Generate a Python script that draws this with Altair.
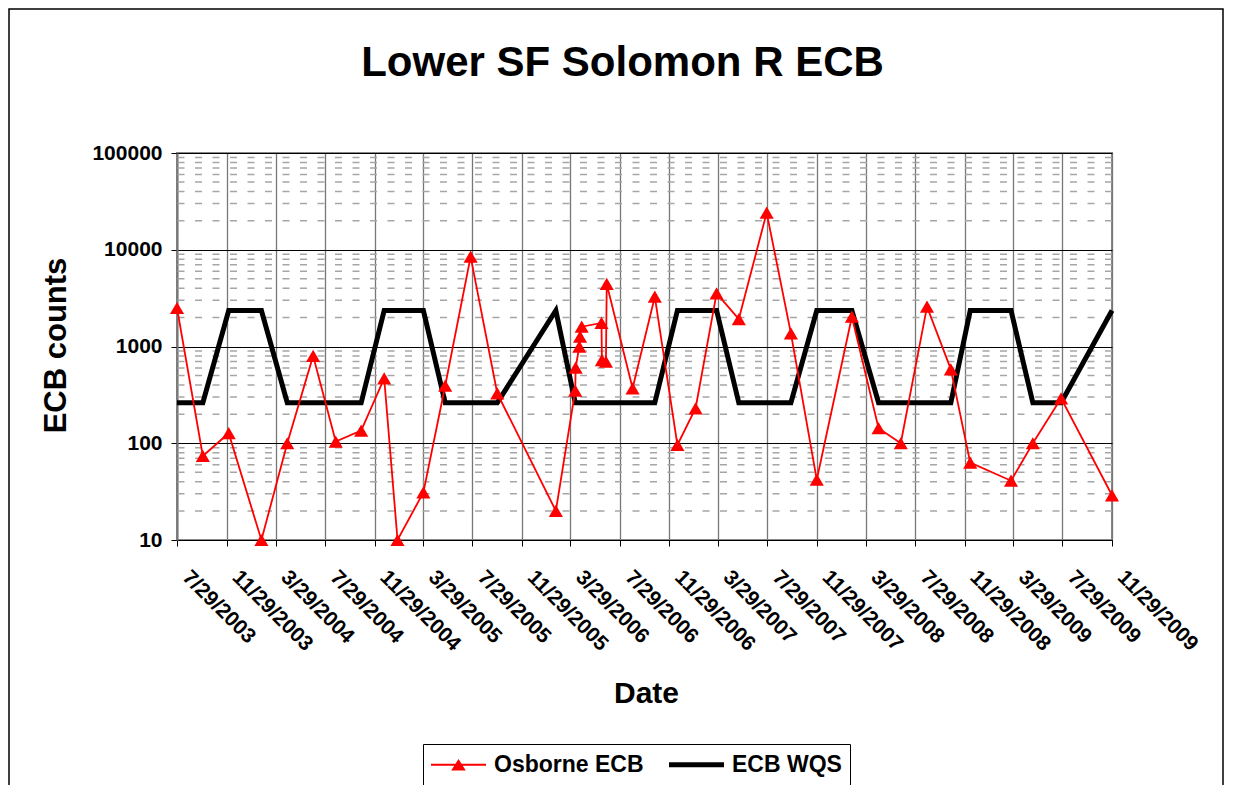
import altair as alt
import pandas as pd

FONT = "Liberation Sans"

# ---- data ----
sample_dates = [
    "2003-07-29", "2003-10-01", "2003-12-04", "2004-02-23", "2004-04-27",
    "2004-06-30", "2004-08-25", "2004-10-27", "2004-12-23", "2005-01-25",
    "2005-03-30", "2005-05-23", "2005-07-25", "2005-09-29", "2006-02-21",
    "2006-04-10", "2006-04-11", "2006-04-20", "2006-04-22", "2006-04-26",
    "2006-06-14", "2006-06-15", "2006-06-25", "2006-06-27", "2006-08-30",
    "2006-10-24", "2006-12-19", "2007-02-02", "2007-03-26", "2007-05-20",
    "2007-07-28", "2007-09-26", "2007-11-29", "2008-02-24", "2008-04-30",
    "2008-06-24", "2008-08-28", "2008-10-26", "2008-12-13", "2009-03-24",
    "2009-05-17", "2009-07-26", "2009-11-29",
]
osborne_ecb = [
    2500, 74, 127, 10, 100,
    800, 104, 135, 469, 10,
    31, 393, 8480, 328, 20,
    349, 604, 995, 1262, 1603,
    1750, 725, 697, 4430, 370,
    3270, 96, 230, 3548, 1924,
    24150, 1368, 42, 2033, 143,
    100, 2579, 581, 63, 41,
    100, 291, 29,
]
ecb_wqs = [
    262, 262, 2358, 2358, 262,
    262, 262, 262, 2358, 2358,
    2358, 262, 262, 262, 2358,
    262, 262, 262, 262, 262,
    262, 262, 262, 262, 262,
    262, 2358, 2358, 2358, 262,
    262, 262, 2358, 2358, 262,
    262, 262, 262, 2358, 2358,
    262, 262, 2358,
]
tick_dates = [
    (2003, 7, 29), (2003, 11, 29), (2004, 3, 29), (2004, 7, 29), (2004, 11, 29),
    (2005, 3, 29), (2005, 7, 29), (2005, 11, 29), (2006, 3, 29), (2006, 7, 29),
    (2006, 11, 29), (2007, 3, 29), (2007, 7, 29), (2007, 11, 29), (2008, 3, 29),
    (2008, 7, 29), (2008, 11, 29), (2009, 3, 29), (2009, 7, 29), (2009, 11, 29),
]
major_y = [10, 100, 1000, 10000, 100000]
minor_y = [20, 30, 40, 50, 60, 70, 80, 90,
           200, 300, 400, 500, 600, 700, 800, 900,
           2000, 3000, 4000, 5000, 6000, 7000, 8000, 9000,
           20000, 30000, 40000, 50000, 60000, 70000, 80000, 90000]
series_names = ["Osborne ECB", "ECB WQS"]
series_colors = ["#ff0000", "#000000"]
# legend symbols: thin line + triangle, thick line
legend_shapes = [
    "M-1,-0.08H3.4V0.08H-1Z M0.616,0.464L1.2,-0.464L1.784,0.464Z",
    "M-1,-0.2H3.4V0.2H-1Z",
]

df = pd.DataFrame({
    "date": [d + "T00:00:00" for d in sample_dates],
    "osborne": osborne_ecb,
    "wqs": ecb_wqs,
})
df_long = pd.concat([
    pd.DataFrame({"date": df["date"], "value": df["osborne"], "series": series_names[0]}),
    pd.DataFrame({"date": df["date"], "value": df["wqs"], "series": series_names[1]}),
])
df_minor = pd.DataFrame({"v": minor_y})

# ---- scales / axes ----
xscale = alt.Scale(domain=[alt.DateTime(year=2003, month=7, date=29),
                           alt.DateTime(year=2009, month=11, date=29)], nice=False)
yscale = alt.Scale(type="log", domain=[10, 100000], nice=False)

xaxis = alt.Axis(
    values=[alt.DateTime(year=y, month=m, date=d) for (y, m, d) in tick_dates],
    format="%-m/%-d/%Y", labelAngle=45, labelAlign="left", labelBaseline="top",
    labelPadding=20, labelOffset=16, labelOverlap=False, labelFlush=False,
    labelFontSize=21, labelFontWeight="bold", labelColor="#000", labelFont=FONT,
    grid=True, gridColor="#777777", gridWidth=1.3,
    tickSize=6, tickColor="#000", domainColor="#000", domainWidth=1,
    title="Date", titleFontSize=30, titleFontWeight="bold", titleFont=FONT,
    titleColor="#000", titleX=469, titleY=162, titleAlign="center",
    titleBaseline="alphabetic",
)
yaxis = alt.Axis(
    values=major_y, format="d", grid=True, gridColor="#000", gridWidth=1,
    tickSize=6, tickColor="#000", domainColor="#777777", domainWidth=2,
    labelPadding=9, labelFontSize=21, labelFontWeight="bold", labelColor="#000",
    labelFont=FONT, labelFlush=False,
    title="ECB counts", titleFontSize=31, titleFontWeight="bold", titleFont=FONT,
    titleColor="#000", titleX=-112, titleY=192, titleAngle=270,
    titleAlign="center", titleBaseline="alphabetic",
)

X = alt.X("date:T", scale=xscale, axis=xaxis)

minor = alt.Chart(df_minor).mark_rule(
    color="#a6a6a6", strokeWidth=1.5, strokeDash=[7, 10.5]
).encode(y=alt.Y("v:Q", scale=yscale, axis=yaxis))

wqs_line = alt.Chart(df).mark_line(color="#000", strokeWidth=5).encode(
    x=X, y=alt.Y("wqs:Q", scale=yscale, axis=yaxis))

osb_line = alt.Chart(df).mark_line(color="#ff0000", strokeWidth=1.8).encode(
    x=X, y=alt.Y("osborne:Q", scale=yscale, axis=yaxis))

osb_pts = alt.Chart(df).mark_point(
    shape="triangle-up", filled=True, size=200, color="#ff0000", opacity=1
).encode(x=X, y=alt.Y("osborne:Q", scale=yscale, axis=yaxis))

legend = alt.Legend(
    orient="none", legendX=246, legendY=591, direction="horizontal", title=None,
    labelFont=FONT, labelFontSize=23, labelFontWeight="bold", labelColor="#000",
    labelLimit=400, symbolSize=625, symbolStrokeWidth=0, symbolOpacity=1,
    labelOffset=38, columnPadding=25, padding=8, strokeColor="#000",
    fillColor="#ffffff",
)
legend_layer = alt.Chart(df_long).mark_point(filled=True, opacity=0).encode(
    x=X,
    y=alt.Y("value:Q", scale=yscale, axis=yaxis),
    color=alt.Color("series:N", scale=alt.Scale(domain=series_names, range=series_colors),
                    legend=legend),
    shape=alt.Shape("series:N", scale=alt.Scale(domain=series_names, range=legend_shapes),
                    legend=legend),
)

frame = alt.Chart(pd.DataFrame({"a": [0]})).mark_rect(
    fillOpacity=0, stroke="#000", strokeWidth=1.5
).encode(x=alt.value(-168), x2=alt.value(1046), y=alt.value(-144), y2=alt.value(700))

chart = alt.layer(frame, minor, wqs_line, osb_line, osb_pts, legend_layer).properties(
    width=935, height=387,
    title=alt.Title("Lower SF Solomon R ECB", fontSize=42, fontWeight="bold", font=FONT,
                    color="#000", anchor="middle", dx=-22, offset=0, dy=110,
                    baseline="alphabetic"),
    autosize=alt.AutoSizeParams(type="none"),
    padding={"left": 169, "top": 145, "right": 113, "bottom": 245},
).configure(font=FONT).configure_view(stroke="#888888", strokeWidth=2)

chart.save("out.html", embed_options={"renderer": "svg", "actions": False})
